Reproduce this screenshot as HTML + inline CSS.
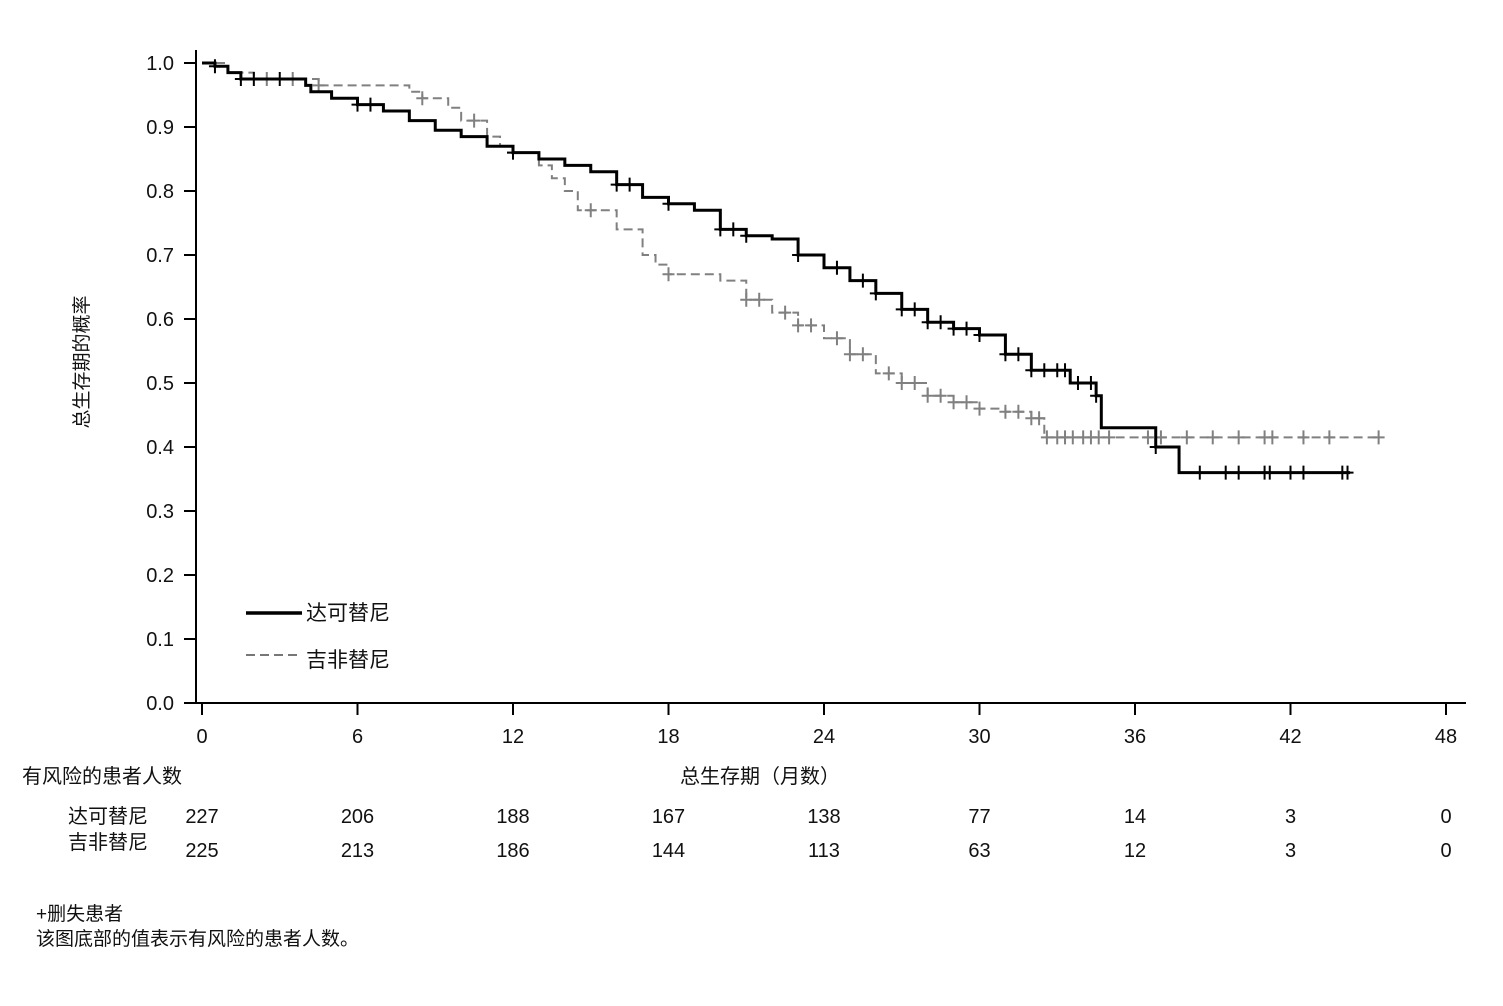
<!DOCTYPE html>
<html><head><meta charset="utf-8">
<style>
body{margin:0;background:#fff;width:1503px;height:1001px;overflow:hidden}
svg text{font-family:"Liberation Sans","Noto Sans CJK SC",sans-serif;fill:#111}
</style></head><body>
<svg width="1503" height="1001">
<g id="axes"></g><g id="series"></g>
<g>
<line x1="246" y1="613" x2="302" y2="613" stroke="#000" stroke-width="3.5"/>
<text x="306" y="620" font-size="21">达可替尼</text>
<line x1="246" y1="655" x2="302" y2="655" stroke="#777" stroke-width="2" stroke-dasharray="9,5"/>
<text x="306" y="667" font-size="21">吉非替尼</text>
</g>
<text transform="translate(88,362) rotate(-90)" text-anchor="middle" font-size="19">总生存期的概率</text>
<text x="760" y="783" text-anchor="middle" font-size="20">总生存期（月数）</text>
<text x="22" y="783" font-size="20">有风险的患者人数</text>
<text x="68" y="823" font-size="20">达可替尼</text>
<text x="68" y="849" font-size="20">吉非替尼</text>
<g id="risk"></g>
<text x="36" y="920" font-size="19">+删失患者</text>
<text x="36" y="945" font-size="19">该图底部的值表示有风险的患者人数。</text>
</svg>
<script>
const xTicks=[0,6,12,18,24,30,36,42,48];
const yTicks=[0,0.1,0.2,0.3,0.4,0.5,0.6,0.7,0.8,0.9,1.0];
const riskDaco=[227,206,188,167,138,77,14,3,0];
const riskGefi=[225,213,186,144,113,63,12,3,0];
const dacoT=[0,0.5,1,1.5,4,4.2,5,6,7,8,9,10,11,12,13,14,15,16,17,18,19,20,21,22,23,24,25,26,27,28,29,30,31,32,33.5,34.5,34.7,36.8,37.7,44.3];
const dacoS=[1,0.995,0.985,0.975,0.965,0.955,0.945,0.935,0.925,0.91,0.895,0.885,0.87,0.86,0.85,0.84,0.83,0.81,0.79,0.78,0.77,0.74,0.73,0.725,0.70,0.68,0.66,0.64,0.615,0.595,0.585,0.575,0.545,0.52,0.50,0.48,0.43,0.40,0.36,0.36];
const gefiT=[0,1,2,4.5,8,8.5,9.5,10,11,11.5,12,13,13.5,14,14.5,16,17,17.5,18,20,21,22,23,24,25,26,27,28,29,30,31,32,32.5,45.4];
const gefiS=[1,0.985,0.975,0.965,0.955,0.945,0.93,0.91,0.885,0.87,0.86,0.84,0.82,0.80,0.77,0.74,0.70,0.685,0.67,0.66,0.63,0.61,0.59,0.57,0.545,0.515,0.50,0.48,0.47,0.46,0.455,0.445,0.415,0.415];
const dacoC=[0.5,1.5,2,3,6,6.5,12,16,16.5,18,20,20.5,21,23,24.5,25.5,26,27,27.5,28,28.5,29,29.5,30,31,31.5,32,32.5,33,33.3,33.8,34.3,34.5,36.8,38.5,39.5,40,41,41.2,42,42.5,44,44.2];
const gefiC=[2.5,3.5,4.5,8.5,10.5,12,15,18,21,21.5,22.5,23,23.5,24.5,25,25.5,26.5,27,27.5,28,28.5,29,29.5,30,31,31.5,32,32.3,32.6,33,33.3,33.6,34,34.3,34.6,35,36.5,37,38,39,40,41,41.3,42.5,43.5,45.4];
const X=m=>202+m*1244/48, Y=s=>703-s*640;
const NS="http://www.w3.org/2000/svg";
function mk(p,tag,a){const e=document.createElementNS(NS,tag);for(const k in a)e.setAttribute(k,a[k]);p.appendChild(e);return e;}
const ax=document.getElementById('axes');
let l=mk(ax,'line',{x1:196,y1:50,x2:196,y2:703,stroke:'#000','stroke-width':2});


l=mk(ax,'line',{x1:196,y1:703,x2:1466,y2:703,stroke:'#000','stroke-width':2});


yTicks.forEach(v=>{mk(ax,'line',{x1:184,x2:196,y1:Y(v),y2:Y(v),stroke:'#000','stroke-width':2});
const t=mk(ax,'text',{x:174,y:Y(v)+7,'text-anchor':'end','font-size':20});t.textContent=v.toFixed(1);

});
xTicks.forEach(v=>{mk(ax,'line',{x1:X(v),x2:X(v),y1:703,y2:715,stroke:'#000','stroke-width':2});
const t=mk(ax,'text',{x:X(v),y:743,'text-anchor':'middle','font-size':20});t.textContent=v;

});
const rk=document.getElementById('risk');
xTicks.forEach((v,i)=>{let t=mk(rk,'text',{x:X(v),y:823,'text-anchor':'middle','font-size':20});t.textContent=riskDaco[i];


t=mk(rk,'text',{x:X(v),y:857,'text-anchor':'middle','font-size':20});t.textContent=riskGefi[i];

});
function stepAt(T,S,m){let s=S[0];for(let i=0;i<T.length;i++){if(T[i]<=m)s=S[i];}return s;}
const sr=document.getElementById('series');
function draw(T,S,C,col,w,dash,name){let d='M'+X(T[0])+','+Y(S[0]);
for(let i=1;i<T.length;i++){d+=' H'+X(T[i])+' V'+Y(S[i]);}
const p=mk(sr,'path',{d:d,fill:'none',stroke:col,'stroke-width':w});if(dash)p.setAttribute('stroke-dasharray',dash);


C.forEach(m=>{const x=X(m),y=Y(stepAt(T,S,m));
const g=mk(sr,'path',{d:`M${x-6},${y}H${x+6}M${x},${y-7}V${y+7}`,stroke:col,'stroke-width':2});

});}
draw(gefiT,gefiS,gefiC,'#808080',2,'9,5','gefitinib');
draw(dacoT,dacoS,dacoC,'#000',3,null,'dacomitinib');
</script>
</body></html>
